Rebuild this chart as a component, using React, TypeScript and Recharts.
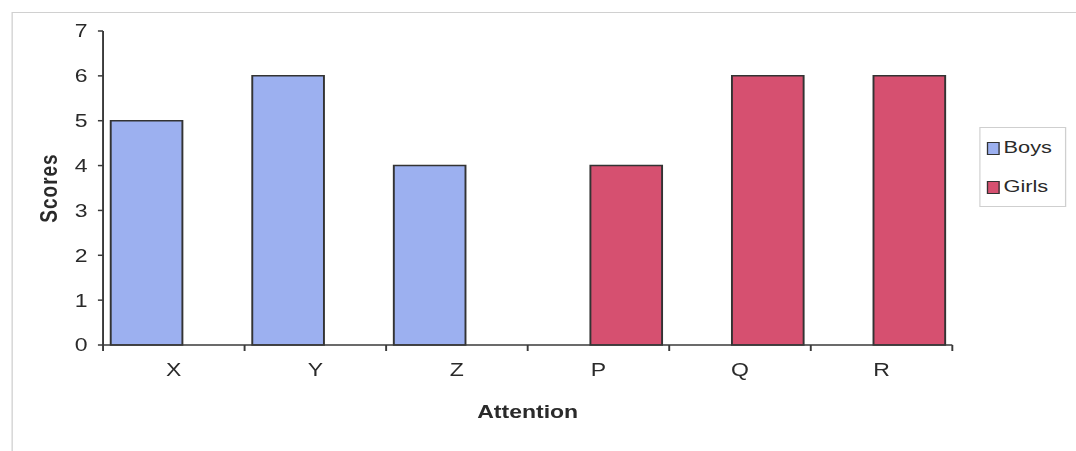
import { BarChart, Bar, XAxis, YAxis, Legend, Label } from 'recharts';

const CATEGORIES = ['X', 'Y', 'Z', 'P', 'Q', 'R'];
const BOYS = [5, 6, 4, null, null, null];
const GIRLS = [null, null, null, 4, 6, 6];
const Y_TICKS = [0, 1, 2, 3, 4, 5, 6, 7];

const SERIES = [
  { key: 'boys', name: 'Boys', color: '#9CB0F0' },
  { key: 'girls', name: 'Girls', color: '#D65070' },
];

// the scan is stretched sideways, so the chart is drawn narrow and scaled on x
const STRETCH = 1.28;
const W = 841;
const H = 451;
const MARGIN = { top: 31, right: 97, bottom: 66, left: 30.5 };
const Y_AXIS_W = 50;
const FONT = '"Liberation Sans", Arial, sans-serif';
const AXIS = '#3a3a3a';
const TEXT = '#2a2a2a';

const data = CATEGORIES.map((name, i) => ({ name, boys: BOYS[i], girls: GIRLS[i] }));

const bandWidth = (W - MARGIN.left - MARGIN.right - Y_AXIS_W) / CATEGORIES.length;

function CategoryTick(props: any) {
  const { x, y, payload, index } = props;
  const half = typeof payload?.offset === 'number' && payload.offset > 0 ? payload.offset : bandWidth / 2;
  const last = index === CATEGORIES.length - 1;
  return (
    <g>
      <line x1={x - half} y1={y} x2={x - half} y2={y + 6} stroke={AXIS} strokeWidth={1.5} />
      {last && <line x1={x + half} y1={y} x2={x + half} y2={y + 6} stroke={AXIS} strokeWidth={1.5} />}
      <text x={x} y={y + 31} textAnchor="middle" fontSize={18} fontFamily={FONT} fill={TEXT}>
        {payload.value}
      </text>
    </g>
  );
}

function LegendBox(props: any) {
  const items = props.payload || [];
  return (
    <div
      style={{
        width: 68,
        height: 80,
        boxSizing: 'border-box',
        border: '1px solid #cfcfcf',
        background: '#fff',
        paddingTop: 10,
        paddingLeft: 5,
        fontFamily: FONT,
      }}
    >
      {items.map((it: any, i: number) => (
        <div
          key={i}
          style={{ display: 'flex', alignItems: 'center', height: 20, marginBottom: 19, fontSize: 17, color: TEXT }}
        >
          <span
            style={{
              width: 10,
              height: 13,
              boxSizing: 'border-box',
              border: '1.5px solid #333',
              background: it.color,
              marginRight: 3,
              display: 'inline-block',
            }}
          />
          {it.value}
        </div>
      ))}
    </div>
  );
}

export default function App() {
  return (
    <div style={{ width: 1076, height: 451, position: 'relative', overflow: 'hidden', background: '#fff' }}>
      <style>{`body{margin:0}`}</style>
      <div style={{ width: W, height: H, transform: `scaleX(${STRETCH})`, transformOrigin: '0 0', position: 'relative' }}>
        {/* outer frame */}
        <div
          style={{
            position: 'absolute',
            left: 8.6,
            top: 12,
            width: 1000,
            height: 600,
            border: '1px solid #d0d0d0',
          }}
        />
        <BarChart width={W} height={H} data={data} margin={MARGIN} barGap={-13}>
          <XAxis
            dataKey="name"
            interval={0}
            height={40}
            tickLine={false}
            tickSize={0}
            tickMargin={0}
            axisLine={{ stroke: AXIS, strokeWidth: 1.5 }}
            tick={<CategoryTick />}
          >
            <Label
              value="Attention"
              position="center"
              dy={46.5}
              style={{ fontSize: 18, fontWeight: 700, fontFamily: FONT, fill: TEXT }}
            />
          </XAxis>
          <YAxis
            type="number"
            domain={[0, 7]}
            ticks={Y_TICKS}
            width={Y_AXIS_W}
            tickSize={4}
            tickMargin={8}
            axisLine={{ stroke: AXIS, strokeWidth: 1.5 }}
            tickLine={{ stroke: AXIS, strokeWidth: 1.5 }}
            tick={{ fontSize: 18, fontFamily: FONT, fill: TEXT }}
          >
            <Label
              value="Scores"
              position="center"
              angle={-90}
              dx={-18}
              style={{ fontSize: 19, fontWeight: 700, fontFamily: FONT, fill: TEXT, letterSpacing: 1 }}
            />
          </YAxis>
          <Legend
            layout="vertical"
            align="center"
            verticalAlign="middle"
            content={<LegendBox />}
            wrapperStyle={{ left: 765, top: 127, width: 68, height: 80 }}
          />
          {SERIES.map(s => (
            <Bar
              key={s.key}
              dataKey={s.key}
              name={s.name}
              fill={s.color}
              stroke="#333"
              strokeWidth={1.5}
              barSize={56}
              isAnimationActive={false}
            />
          ))}
        </BarChart>
      </div>
    </div>
  );
}
